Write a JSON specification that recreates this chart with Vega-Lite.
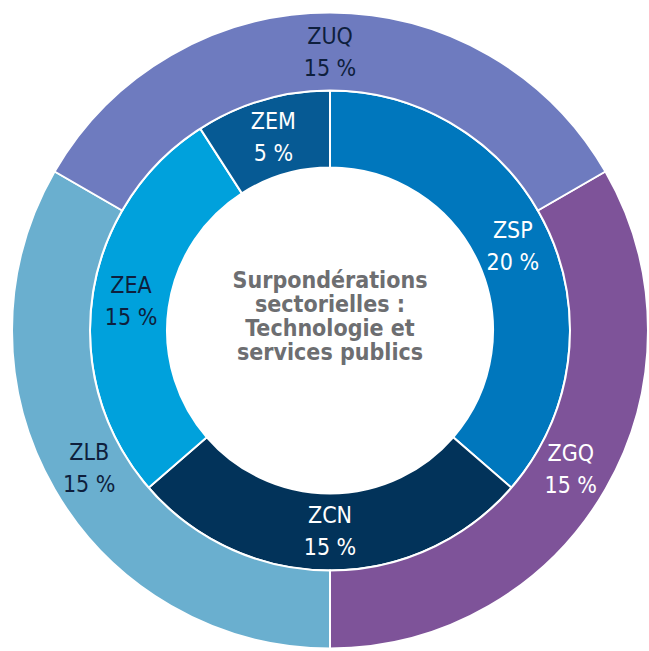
{
  "$schema": "https://vega.github.io/schema/vega-lite/v6.json",
  "width": 660,
  "height": 661,
  "padding": 0,
  "autosize": "none",
  "background": "white",
  "view": {"stroke": null},
  "datasets": {
    "inner": [
      {"name": "ZSP", "value": 20},
      {"name": "ZCN", "value": 15},
      {"name": "ZEA", "value": 15},
      {"name": "ZEM", "value": 5}
    ],
    "outer": [
      {"name": "ZGQ", "value": 15},
      {"name": "ZLB", "value": 15},
      {"name": "ZUQ", "value": 15}
    ],
    "center": [
      {"title": "Surpondérations\nsectorielles :\nTechnologie et\nservices publics"}
    ]
  },
  "resolve": {"scale": {"theta": "independent"}},
  "layer": [
    {
      "data": {"name": "inner"},
      "transform": [
        {"window": [{"op": "row_number", "as": "ord"}]},
        {"calculate": "datum.name + '\\n' + datum.value + ' %'", "as": "label"}
      ],
      "encoding": {
        "theta": {"field": "value", "type": "quantitative", "stack": true},
        "order": {"field": "ord", "type": "quantitative"}
      },
      "layer": [
        {
          "mark": {"type": "arc", "innerRadius": 163, "outerRadius": 240, "stroke": "white", "strokeWidth": 2},
          "encoding": {
            "color": {
              "field": "name", "type": "nominal", "legend": null,
              "scale": {
                "domain": ["ZSP", "ZCN", "ZEA", "ZEM", "ZGQ", "ZLB", "ZUQ"],
                "range": ["#0077bd", "#02335a", "#00a1dc", "#065a94", "#7e5399", "#6aafcf", "#6e7bbf"]
              }
            }
          }
        },
        {
          "mark": {"type": "text", "radius": 201, "lineBreak": "\n", "fontSize": 23, "lineHeight": 32, "dy": -16, "font": "DejaVu Sans Condensed, Liberation Sans Narrow, DejaVu Sans", "align": "center", "baseline": "middle"},
          "encoding": {
            "text": {"field": "label"},
            "color": {
              "condition": {"test": "datum.name === 'ZEA'", "value": "#0e1f3d"},
              "value": "white"
            }
          }
        }
      ]
    },
    {
      "data": {"name": "outer"},
      "transform": [
        {"window": [{"op": "row_number", "as": "ord"}]},
        {"calculate": "datum.name + '\\n' + datum.value + ' %'", "as": "label"}
      ],
      "encoding": {
        "theta": {"field": "value", "type": "quantitative", "stack": true, "scale": {"range": [1.0472, 7.3304]}},
        "order": {"field": "ord", "type": "quantitative"}
      },
      "layer": [
        {
          "mark": {"type": "arc", "innerRadius": 240, "outerRadius": 318, "stroke": "white", "strokeWidth": 2},
          "encoding": {
            "color": {"field": "name", "type": "nominal", "legend": null}
          }
        },
        {
          "mark": {"type": "text", "radius": 278, "lineBreak": "\n", "fontSize": 23, "lineHeight": 32, "dy": -16, "font": "DejaVu Sans Condensed, Liberation Sans Narrow, DejaVu Sans", "align": "center", "baseline": "middle"},
          "encoding": {
            "text": {"field": "label"},
            "color": {
              "condition": {"test": "datum.name === 'ZGQ'", "value": "white"},
              "value": "#0e1f3d"
            }
          }
        }
      ]
    },
    {
      "data": {"name": "center"},
      "mark": {"type": "text", "lineBreak": "\n", "fontSize": 23, "lineHeight": 24, "fontWeight": "bold", "font": "DejaVu Sans Condensed, Liberation Sans Narrow, DejaVu Sans", "color": "#6d6e71", "align": "center", "baseline": "middle", "dy": -50},
      "encoding": {"text": {"field": "title"}}
    }
  ]
}
